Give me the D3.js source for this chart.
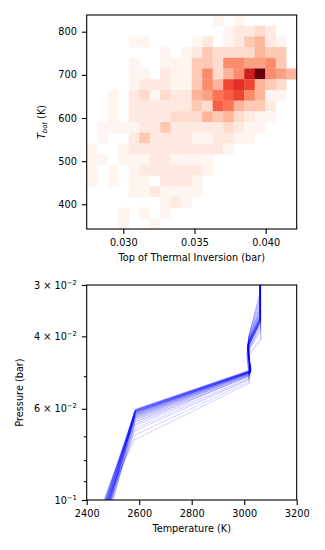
<!DOCTYPE html>
<html>
<head>
<meta charset="utf-8">
<script src="https://cdn.jsdelivr.net/npm/d3@7/dist/d3.min.js"></script>
<style>
  body { margin: 0; background: #fff; }
  text { font-family: "DejaVu Sans", sans-serif; }
</style>
</head>
<body>
<div id="chart"></div>
<script>
// ---- top panel: 2D histogram (20 x 20 bins), rows listed from top (hot) to bottom
const inversionRange = [0.02743, 0.04218];
const tbotRange = [342.8, 838.7];
const countsTopDown = [
  [0,0,0,0,0,0,0,0,0,0,0,0,1,0,1,0,0,0,0,0],
  [0,0,0,0,0,0,0,0,0,0,0,0,0,1,2,2,3,2,0,0],
  [0,0,0,0,1,1,0,0,0,0,1,2,0,1,2,4,5,2,1,0],
  [0,0,0,0,0,0,0,1,0,1,2,4,3,3,3,3,5,4,4,0],
  [0,0,0,0,1,0,0,1,1,1,4,4,3,7,7,6,6,7,4,0],
  [0,0,0,0,1,1,0,2,1,1,4,7,3,5,7,12,16,7,6,5],
  [0,0,0,0,1,2,2,2,1,1,4,7,5,10,11,10,5,4,3,0],
  [0,0,1,0,2,3,1,3,2,2,5,6,8,9,10,7,5,1,1,0],
  [0,0,1,0,2,2,2,2,2,2,4,3,9,8,5,4,4,2,0,0],
  [0,0,1,0,2,2,2,2,3,3,3,5,4,5,3,2,1,1,0,0],
  [0,1,1,1,1,2,2,4,2,2,2,2,2,3,2,1,1,0,0,0],
  [0,1,0,0,2,4,2,2,2,2,1,1,2,2,1,1,0,0,0,0],
  [1,0,0,1,2,2,2,2,2,2,2,2,2,1,0,0,0,0,0,0],
  [1,1,0,1,1,1,2,2,1,1,1,1,0,0,0,0,0,0,0,0],
  [1,0,1,0,1,2,2,2,2,2,2,1,0,0,0,0,0,0,0,0],
  [1,0,1,0,1,1,0,2,2,2,1,0,0,0,0,0,0,0,0,0],
  [0,0,0,0,1,1,2,1,1,1,1,0,0,0,0,0,0,0,0,0],
  [0,0,0,0,0,0,0,1,2,1,0,0,0,0,0,0,0,0,0,0],
  [0,0,0,1,0,1,0,1,0,0,0,0,0,0,0,0,0,0,0,0],
  [0,0,0,1,0,0,1,0,0,0,0,0,0,0,0,0,0,0,0,0]
];
const histXTicks = [0.030, 0.035, 0.040];
const histYTicks = [400, 500, 600, 700, 800];

// ---- bottom panel: T-P profiles, one value per profile at each node
const tBottom = [2478,2490,2470,2486,2474,2494,2480,2497,2468,2484,2488,2476,2472,2492,2482,2479,2485,2499,2471,2487,2481,2475,2489,2465,2493,2483,2473,2491,2477,2495,2482,2469,2486,2474,2488,2480,2502,2476,2484,2490];
const pKink = [0.0605,0.061,0.0615,0.062,0.0602,0.0635,0.061,0.0645,0.0608,0.066,0.0612,0.0625,0.0603,0.068,0.0618,0.0607,0.063,0.0655,0.0611,0.0622,0.0606,0.0715,0.0614,0.064,0.0609,0.0628,0.0604,0.067,0.0616,0.0612,0.0632,0.0601,0.0648,0.0619,0.0607,0.0695,0.0613,0.0624,0.0606,0.0638];
const tKink = [2585,2583,2586,2584,2587,2582,2585,2584,2586,2583,2585,2584,2588,2582,2585,2586,2584,2583,2585,2587,2584,2581,2585,2584,2586,2583,2585,2584,2587,2585,2583,2586,2584,2585,2582,2584,2586,2585,2583,2584];
const pUpper = [0.0485,0.049,0.0488,0.0492,0.0483,0.0495,0.0487,0.05,0.0486,0.0505,0.0489,0.0491,0.0484,0.051,0.0488,0.0486,0.0493,0.0498,0.0487,0.049,0.0485,0.052,0.0489,0.0496,0.0486,0.0492,0.0484,0.0507,0.0488,0.0487,0.0494,0.0482,0.0499,0.0489,0.0486,0.0515,0.0488,0.0491,0.0485,0.0496];
const tUpper = [3024,3022,3025,3023,3026,3021,3024,3020,3025,3019,3023,3024,3026,3018,3024,3025,3022,3021,3024,3023,3025,3019,3024,3022,3025,3023,3026,3020,3024,3024,3022,3027,3021,3024,3025,3019,3024,3023,3025,3022];
const pTurn = [0.042,0.0415,0.043,0.041,0.0425,0.0405,0.042,0.044,0.0418,0.04,0.0422,0.0428,0.0412,0.0445,0.0419,0.0426,0.0408,0.044,0.0423,0.0416,0.0429,0.0398,0.0417,0.0438,0.0424,0.0414,0.043,0.0402,0.042,0.0427,0.041,0.0432,0.045,0.0419,0.0425,0.0396,0.0421,0.0415,0.0428,0.0436];
const tTurn = [3013,3014,3012,3015,3013,3016,3013,3011,3014,3017,3013,3012,3015,3010,3013,3012,3016,3011,3013,3014,3012,3018,3014,3011,3013,3015,3012,3017,3013,3012,3015,3012,3010,3013,3012,3019,3013,3014,3012,3011];
const pTop = [0.036,0.0355,0.037,0.0345,0.0365,0.033,0.036,0.0375,0.035,0.032,0.0362,0.0368,0.034,0.0405,0.0358,0.0366,0.0335,0.039,0.0363,0.0352,0.0369,0.031,0.0357,0.038,0.0364,0.0348,0.0371,0.0325,0.036,0.0367,0.0342,0.0372,0.041,0.0359,0.0365,0.0315,0.0361,0.0354,0.0368,0.0385];
const tTop = [3061,3061,3062,3060,3061,3061,3062,3061,3060,3061,3061,3062,3061,3063,3061,3060,3061,3062,3061,3061,3060,3061,3061,3062,3061,3060,3061,3061,3062,3061,3061,3060,3063,3061,3061,3061,3062,3061,3060,3062];
const pSurface = 0.1, pCeiling = 0.03;
const tempTicks = [2400, 2600, 2800, 3000, 3200];
const presMajor = [0.03, 0.04, 0.06, 0.1];
const presMajorLabels = [["3 × 10", "−2"], ["4 × 10", "−2"], ["6 × 10", "−2"], ["10", "−1"]];
const presMinor = [0.05, 0.07, 0.08, 0.09];

const W = 325, H = 550;
const fs = 9.72, tickLen = 4.9, tickPad = 4.9, spineW = 1.1;

const svg = d3.select("#chart").append("svg")
  .attr("width", W).attr("height", H);

function styleAxis(g) {
  g.select(".domain").remove();
  g.selectAll(".tick line").attr("stroke", "#000").attr("stroke-width", spineW);
  g.selectAll(".tick text").attr("font-size", fs).attr("fill", "#000")
    .attr("font-family", "DejaVu Sans, sans-serif");
}

function frame(g, w, h) {
  g.append("rect").attr("x", 0).attr("y", 0).attr("width", w).attr("height", h)
    .attr("fill", "none").attr("stroke", "#000").attr("stroke-width", spineW);
}

// ================= top panel =================
let histBox = { left: 86.7, top: 15, width: 210, height: 214 };
let g1 = svg.append("g").attr("transform", `translate(${histBox.left}, ${histBox.top})`);

let x1 = d3.scaleLinear().domain(inversionRange).range([0, histBox.width]);
let y1 = d3.scaleLinear().domain(tbotRange).range([histBox.height, 0]);
let nBins = countsTopDown.length;
let xEdges = d3.range(nBins + 1).map(i => inversionRange[0] + i * (inversionRange[1] - inversionRange[0]) / nBins);
let yEdges = d3.range(nBins + 1).map(i => tbotRange[1] - i * (tbotRange[1] - tbotRange[0]) / nBins);
let maxCount = d3.max(countsTopDown.flat());
let color = d3.scaleSequential(d3.interpolateReds).domain([1, maxCount]);

let cells = [];
countsTopDown.forEach((row, r) => row.forEach((c, k) => {
  if (c > 0) cells.push({ r: r, k: k, c: c });
}));

g1.append("g").selectAll("rect")
  .data(cells)
  .enter()
  .append("rect")
  .attr("x", d => x1(xEdges[d.k]))
  .attr("y", d => y1(yEdges[d.r]))
  .attr("width", d => x1(xEdges[d.k + 1]) - x1(xEdges[d.k]) + 0.3)
  .attr("height", d => y1(yEdges[d.r + 1]) - y1(yEdges[d.r]) + 0.3)
  .attr("fill", d => color(d.c));

g1.append("g").attr("transform", `translate(0, ${histBox.height})`)
  .call(d3.axisBottom(x1).tickValues(histXTicks).tickFormat(d3.format(".3f"))
    .tickSizeInner(tickLen).tickSizeOuter(0).tickPadding(tickPad))
  .call(styleAxis);
g1.append("g")
  .call(d3.axisLeft(y1).tickValues(histYTicks).tickFormat(d3.format("d"))
    .tickSizeInner(tickLen).tickSizeOuter(0).tickPadding(tickPad))
  .call(styleAxis);
frame(g1, histBox.width, histBox.height);

g1.append("text")
  .attr("x", histBox.width / 2).attr("y", 246)
  .attr("text-anchor", "middle").attr("font-size", fs)
  .text("Top of Thermal Inversion (bar)");

let tbotLabel = g1.append("text")
  .attr("transform", `translate(${45 - histBox.left}, ${histBox.height / 2}) rotate(-90)`)
  .attr("text-anchor", "middle").attr("font-size", fs);
tbotLabel.append("tspan").attr("font-style", "italic").text("T");
tbotLabel.append("tspan").attr("font-style", "italic").attr("font-size", fs * 0.7)
  .attr("dy", "0.25em").text("bot");
tbotLabel.append("tspan").attr("dy", "-0.175em").text("\u00a0(K)");

// ================= bottom panel =================
let profBox = { left: 86.7, top: 285, width: 210, height: 215 };
let g2 = svg.append("g").attr("transform", `translate(${profBox.left}, ${profBox.top})`);

let x2 = d3.scaleLinear().domain([2400, 3200]).range([0, profBox.width]);
let y2 = d3.scaleLog().domain([pCeiling, pSurface]).range([0, profBox.height]);

let profiles = tBottom.map((t, i) => [
  [t, pSurface],
  [tKink[i], pKink[i]],
  [tUpper[i], pUpper[i]],
  [tTurn[i], pTurn[i]],
  [tTop[i], pTop[i]],
  [tTop[i], pCeiling]
]);

let line = d3.line().x(d => x2(d[0])).y(d => y2(d[1]));

g2.append("defs").append("clipPath").attr("id", "clip2")
  .append("rect").attr("width", profBox.width).attr("height", profBox.height);

g2.append("g").attr("clip-path", "url(#clip2)")
  .selectAll("path")
  .data(profiles)
  .enter()
  .append("path")
  .attr("d", line)
  .attr("fill", "none")
  .attr("stroke", "blue")
  .attr("stroke-opacity", 0.2)
  .attr("stroke-width", 0.9);

g2.append("g").attr("transform", `translate(0, ${profBox.height})`)
  .call(d3.axisBottom(x2).tickValues(tempTicks).tickFormat(d3.format("d"))
    .tickSizeInner(tickLen).tickSizeOuter(0).tickPadding(tickPad))
  .call(styleAxis);

// minor log ticks
g2.append("g")
  .call(d3.axisLeft(y2).tickValues(presMinor).tickFormat("")
    .tickSizeInner(2.8).tickSizeOuter(0))
  .call(styleAxis);

let yAxis2 = g2.append("g")
  .call(d3.axisLeft(y2).tickValues(presMajor).tickFormat("")
    .tickSizeInner(tickLen).tickSizeOuter(0).tickPadding(tickPad))
  .call(styleAxis);
yAxis2.selectAll(".tick text").each(function(d, i) {
  let t = d3.select(this);
  t.append("tspan").text(presMajorLabels[i][0]);
  t.append("tspan").attr("font-size", fs * 0.7).attr("dy", "-0.6em").text(presMajorLabels[i][1]);
});
frame(g2, profBox.width, profBox.height);

g2.append("text")
  .attr("x", profBox.width / 2).attr("y", 247)
  .attr("text-anchor", "middle").attr("font-size", fs)
  .text("Temperature (K)");

g2.append("text")
  .attr("transform", `translate(${23.5 - profBox.left}, ${profBox.height / 2}) rotate(-90)`)
  .attr("text-anchor", "middle").attr("font-size", fs)
  .text("Pressure (bar)");
</script>
</body>
</html>
